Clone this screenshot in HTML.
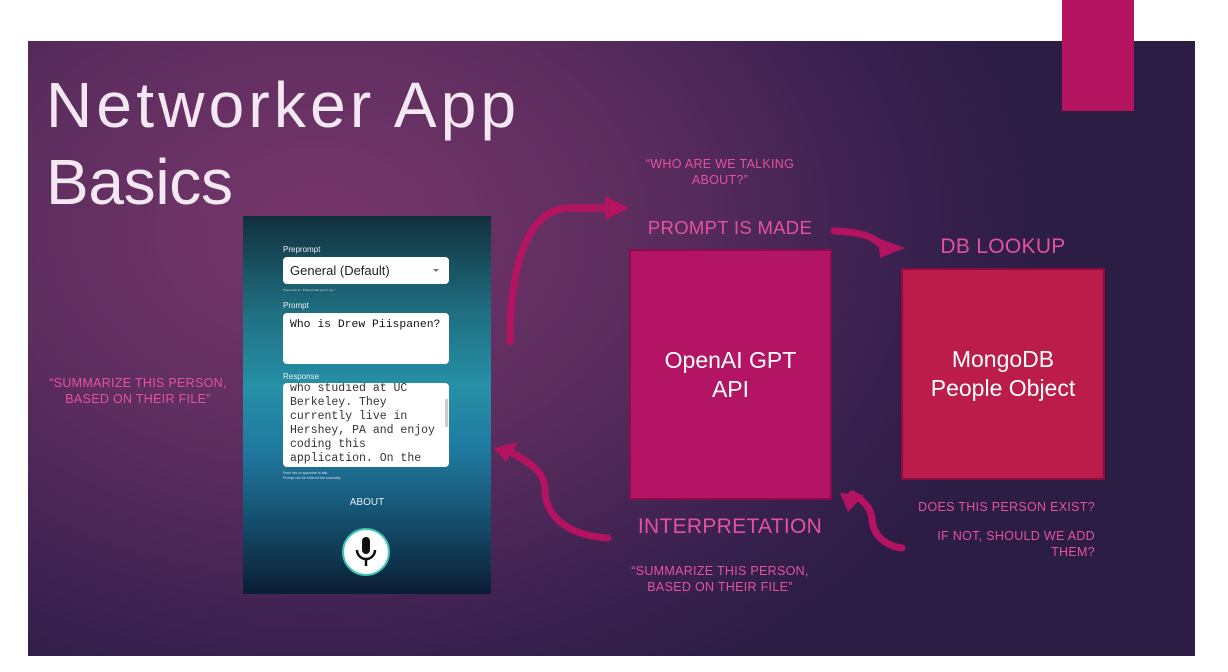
<!DOCTYPE html>
<html><head><meta charset="utf-8"><style>
body{margin:0;width:1228px;height:672px;background:#fff;position:relative;overflow:hidden;font-family:"Liberation Sans",sans-serif}
.slide{position:absolute;left:28px;top:41px;width:1167px;height:615px;background:radial-gradient(ellipse 720px 520px at 290px 190px,#77366c 0%,#5c2d5e 45%,#3a2150 80%,#2c1d45 100%)}
.a{position:absolute}
.pk{color:#e4529e;position:absolute;text-align:center;letter-spacing:0.3px}
.phone{position:absolute;left:243px;top:216px;width:248px;height:378px;background:linear-gradient(180deg,#11303d 0%,#1f6e80 25%,#2690a6 45%,#2079a0 62%,#15506f 80%,#0b1d33 100%)}
.box{position:absolute;color:#fff;display:flex;align-items:center;justify-content:center;text-align:center;font-size:23px;line-height:29px}
</style></head><body>
<div class="slide"></div>
<div class="a" style="left:1062px;top:0;width:72px;height:111px;background:#b3135f"></div>
<div class="a" style="left:46px;top:67px;color:#f3e8f2;font-size:64px;line-height:77px;letter-spacing:4.2px;white-space:nowrap">Networker App</div>
<div class="a" style="left:46px;top:144px;color:#f3e8f2;font-size:64px;line-height:77px;letter-spacing:-0.3px">Basics</div>

<div class="phone">
 <div class="a" style="left:40px;top:29px;font-size:8px;color:#e8f0f4">Preprompt</div>
 <div class="a" style="left:40px;top:41px;width:166px;height:27px;background:#fff;border-radius:4px"></div>
 <div class="a" style="left:47px;top:47px;font-size:13px;color:#222">General (Default)</div>
 <div class="a" style="left:190px;top:53px;width:0;height:0;border-left:3px solid transparent;border-right:3px solid transparent;border-top:3px solid #777"></div>
 <div class="a" style="left:40px;top:72px;font-size:3px;color:#dde">Preprompt is, "Pretend that you're my..."</div>
 <div class="a" style="left:40px;top:85px;font-size:8px;color:#e8f0f4">Prompt</div>
 <div class="a" style="left:40px;top:97px;width:166px;height:51px;background:#fff;border-radius:4px"></div>
 <div class="a" style="left:47px;top:103px;font-size:11.4px;font-family:'Liberation Mono',monospace;color:#111">Who is Drew Piispanen?</div>
 <div class="a" style="left:40px;top:156px;font-size:8px;color:#e8f0f4">Response</div>
 <div class="a" style="left:40px;top:167px;width:166px;height:84px;background:#fff;border-radius:4px;overflow:hidden">
  <div style="position:absolute;left:7px;top:-1px;font-size:11.5px;line-height:14px;font-family:'Liberation Mono',monospace;color:#333">who studied at UC<br>Berkeley. They<br>currently live in<br>Hershey, PA and enjoy<br>coding this<br>application. On the</div>
  <div style="position:absolute;right:1px;top:16px;width:3px;height:28px;background:#ccc"></div>
 </div>
 <div class="a" style="left:40px;top:255px;font-size:3.5px;line-height:5px;color:#dde">Push mic or spacebar to talk.<br>Prompt can be entered into manually.</div>
 <div class="a" style="left:0;width:248px;top:281px;text-align:center;font-size:10px;color:#e0eef4">ABOUT</div>
 <div class="a" style="left:99px;top:312px;width:44px;height:44px;border-radius:50%;background:#fff;border:2px solid #3cc6b4"></div>
 <svg class="a" style="left:99px;top:312px" width="48" height="48" viewBox="0 0 48 48"><rect x="20" y="9" width="8" height="17" rx="4" fill="#111"/><path d="M15 22 a9 9 0 0 0 18 0" stroke="#111" stroke-width="2.5" fill="none"/><line x1="24" y1="31" x2="24" y2="38" stroke="#111" stroke-width="2.5"/></svg>
</div>

<div class="box" style="left:629px;top:249px;width:203px;height:251px;background:#b41464;border:2px solid #8a0c48;box-sizing:border-box">OpenAI GPT<br>API</div>
<div class="box" style="left:901px;top:268px;width:204px;height:212px;background:#bc1c4a;border:2px solid #8a0c40;box-sizing:border-box">MongoDB<br>People Object</div>

<svg class="a" style="left:0;top:0" width="1228" height="672">
 <g fill="none" stroke="#b4135f" stroke-width="7" stroke-linecap="round">
  <path d="M510 342 C510 260 530 208 570 208 L608 208"/>
  <path d="M834 231 C860 232 872 236 880 244"/>
  <path d="M608 538 C560 535 545 510 545 490 C545 470 525 460 510 452"/>
  <path d="M902 548 C880 545 872 530 872 518 C870 505 860 498 852 494"/>
 </g>
 <g fill="#b4135f">
  <polygon points="605,196 629,208 605,220"/>
  <polygon points="878,238 905,248 880,258"/>
  <polygon points="494,448 518,442 506,462"/>
  <polygon points="840,493 864,495 848,512"/>
 </g>
</svg>

<div class="pk" style="left:620px;top:156px;width:200px;font-size:12.5px;line-height:16px">“WHO ARE WE TALKING<br>ABOUT?”</div>
<div class="pk" style="left:630px;top:217px;width:200px;font-size:18.5px">PROMPT IS MADE</div>
<div class="pk" style="left:903px;top:235px;width:200px;font-size:21px">DB LOOKUP</div>
<div class="pk" style="left:30px;top:375px;width:216px;font-size:12.5px;line-height:16px">“SUMMARIZE THIS PERSON,<br>BASED ON THEIR FILE”</div>
<div class="pk" style="left:610px;top:515px;width:240px;font-size:21px">INTERPRETATION</div>
<div class="pk" style="left:610px;top:563px;width:220px;font-size:12.5px;line-height:16px">“SUMMARIZE THIS PERSON,<br>BASED ON THEIR FILE”</div>
<div class="pk" style="left:860px;top:499px;width:235px;font-size:12.5px;line-height:16px;text-align:right">DOES THIS PERSON EXIST?</div>
<div class="pk" style="left:860px;top:528px;width:235px;font-size:12.5px;line-height:16px;text-align:right">IF NOT, SHOULD WE ADD<br>THEM?</div>
</body></html>
